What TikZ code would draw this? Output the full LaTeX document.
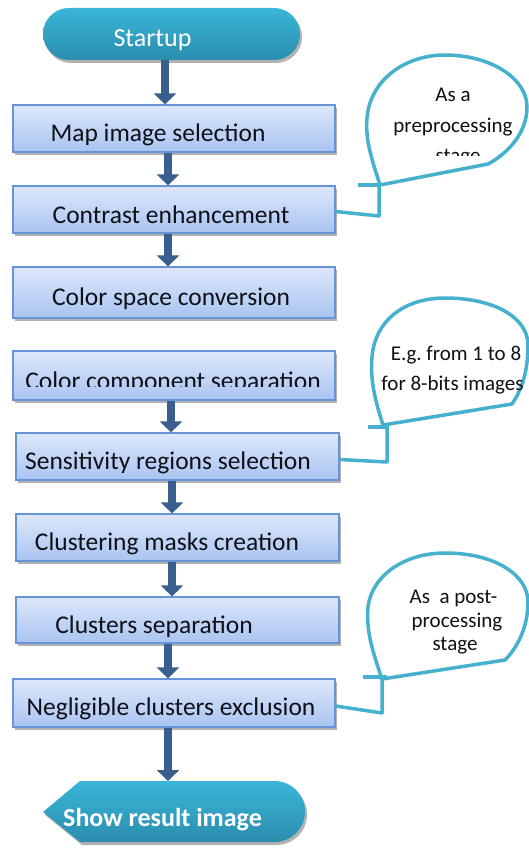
\documentclass[tikz,border=0pt]{standalone}
\usepackage{fontspec}
\setmainfont{Carlito}
\usetikzlibrary{arrows.meta,shadows}
\definecolor{boxtop}{HTML}{DDE7FB}
\definecolor{boxbot}{HTML}{A9C4F1}
\definecolor{boxline}{HTML}{6893D6}
\definecolor{tealtop}{HTML}{3AB6D8}
\definecolor{tealbot}{HTML}{2B8DAE}
\definecolor{arrowblue}{HTML}{3A5E8D}
\definecolor{callline}{HTML}{45B1CD}
\definecolor{txt}{HTML}{101018}
\begin{document}
\begin{tikzpicture}[x=1pt,y=-1pt,
  box/.style={draw=boxline, line width=1.2pt, top color=boxtop, bottom color=boxbot,
    minimum width=322pt, minimum height=47pt, inner sep=0pt,
    drop shadow={shadow xshift=2pt, shadow yshift=-3pt, opacity=0.3, fill=black}},
  btext/.style={anchor=base, text=txt, font=\fontsize{25.5}{30}\selectfont, inner sep=0pt},
  term/.style={rounded corners=26pt, minimum width=257pt, minimum height=52pt, inner sep=0pt,
    top color=tealtop, bottom color=tealbot, draw=none,
    drop shadow={shadow xshift=2pt, shadow yshift=-3pt, opacity=0.3, fill=black}},
  endshape/.style={top color=tealtop, bottom color=tealbot, draw=none,
    drop shadow={shadow xshift=2pt, shadow yshift=-3pt, opacity=0.3, fill=black}},
  ttext/.style={anchor=base, text=white, font=\fontsize{26}{30}\selectfont, inner sep=0pt},
  arr/.style={draw=arrowblue, line width=7.5pt, -{Triangle[width=22pt,length=11pt]}},
  call/.style={draw=callline, line width=3.5pt, line join=round},
  ctext/.style={anchor=base, text=txt, font=\fontsize{21}{26}\selectfont, inner sep=0pt}
]
\useasboundingbox[fill=white] (0,0) rectangle (529,848);

% terminals
\node[term] (st) at (171.5,34) {};
\node[ttext] (tst) at (152.5,47) {Startup};

% process boxes
\node[box] (b1) at (174,128.5) {};
\node[btext] (t1) at (158,141) {Map image selection};
\node[box] (b2) at (174,209.5) {};
\node[btext] (t2) at (171,223) {Contrast enhancement};
\node[box, minimum height=51pt] (b3) at (174,292.5) {};
\node[btext] (t3) at (171,305) {Color space conversion};
\node[box, minimum height=49pt] (b4) at (174,375.5) {};
\begin{scope}
  \clip (13,352) rectangle (336,386.5);
  \node[btext] (t4) at (173,389) {Color component separation};
\end{scope}
\node[box, minimum width=323pt] (b5) at (177.5,456.5) {};
\node[btext] (t5) at (168,469) {Sensitivity regions selection};
\node[box, minimum width=323pt] (b6) at (177.5,537.5) {};
\node[btext] (t6) at (167,550) {Clustering masks creation};
\node[box, minimum width=323pt, minimum height=46pt] (b7) at (177.5,620) {};
\node[btext] (t7) at (154,633) {Clusters separation};
\node[box, minimum height=48pt] (b8) at (174,703) {};
\node[btext] (t8) at (171,715) {Negligible clusters exclusion};

% end terminal
\path[endshape] (43,812) -- (80,781) -- (274.5,781)
  arc[start angle=-90, end angle=90, radius=30.5] -- (80,842) -- cycle;
\node[ttext, font=\fontsize{26}{30}\selectfont\bfseries] (ten) at (162.5,826) {Show result image};
\coordinate (en) at (168,781);

% arrows
\draw[arr] ([xshift=-6.5]st.south) -- ([xshift=-6.5]st.south |- b1.north);
\draw[arr] ([xshift=-6]b1.south) -- ([xshift=-6]b1.south |- b2.north);
\draw[arr] ([xshift=-6]b2.south) -- ([xshift=-6]b2.south |- b3.north);
\draw[arr] ([xshift=-3]b4.south) -- ([xshift=-3]b4.south |- b5.north);
\draw[arr] ([xshift=-5.5]b5.south) -- ([xshift=-5.5]b5.south |- b6.north);
\draw[arr] ([xshift=-5.5]b6.south) -- ([xshift=-5.5]b6.south |- b7.north);
\draw[arr] ([xshift=-9.5]b7.south) -- ([xshift=-9.5]b7.south |- b8.north);
\draw[arr] ([xshift=-6]b8.south) -- (en);

% callout 1
\draw[call] (380,185) .. controls (372,160) and (365,140) .. (367,118)
  .. controls (370,80) and (405,55) .. (445,55)
  .. controls (490,55) and (527,78) .. (527,107)
  .. controls (527,135) and (505,155) .. (488,164) -- cycle;
\draw[call] (358,185) -- (381,185);
\coordinate (c1) at (379,185);
\draw[call] (c1) -- ++(0,31) -- ([yshift=-2pt]b2.east);
\node[ctext] (c1a) at (453,102) {As a};
\node[ctext] (c1b) at (453,132) {preprocessing};
\begin{scope}
  \clip (360,140) rectangle (529,155.5);
  \node[ctext] (c1c) at (458,162) {stage};
\end{scope}

% callout 2
\draw[call] (383,425) .. controls (375,400) and (370,380) .. (372,357)
  .. controls (375,320) and (405,298) .. (445,298)
  .. controls (495,298) and (528,318) .. (528,345)
  .. controls (528,375) and (520,392) .. (512,404) -- cycle;
\draw[call] (368,427) -- (389,427);
\coordinate (c2) at (387,427);
\draw[call] (c2) -- ++(0,35) -- ([yshift=-3pt]b5.east);
\node[ctext] (c2a) at (456,360) {E.g.\ from 1 to 8};
\node[ctext] (c2b) at (452.5,390) {for 8-bits images};

% callout 3
\draw[call] (382,679) .. controls (372,650) and (366,630) .. (368,607)
  .. controls (372,575) and (405,553) .. (445,553)
  .. controls (495,553) and (528,575) .. (528,602)
  .. controls (528,630) and (515,650) .. (505,660) -- cycle;
\draw[call] (363,677) -- (387,677);
\coordinate (c3) at (382,677);
\draw[call] (c3) -- ++(0,36) -- ([yshift=-3pt]b8.east);
\node[ctext] (c3a) at (453.5,603) {As~ a post-};
\node[ctext] (c3b) at (457,627) {processing};
\node[ctext] (c3c) at (455,650) {stage};
\end{tikzpicture}
\end{document}
